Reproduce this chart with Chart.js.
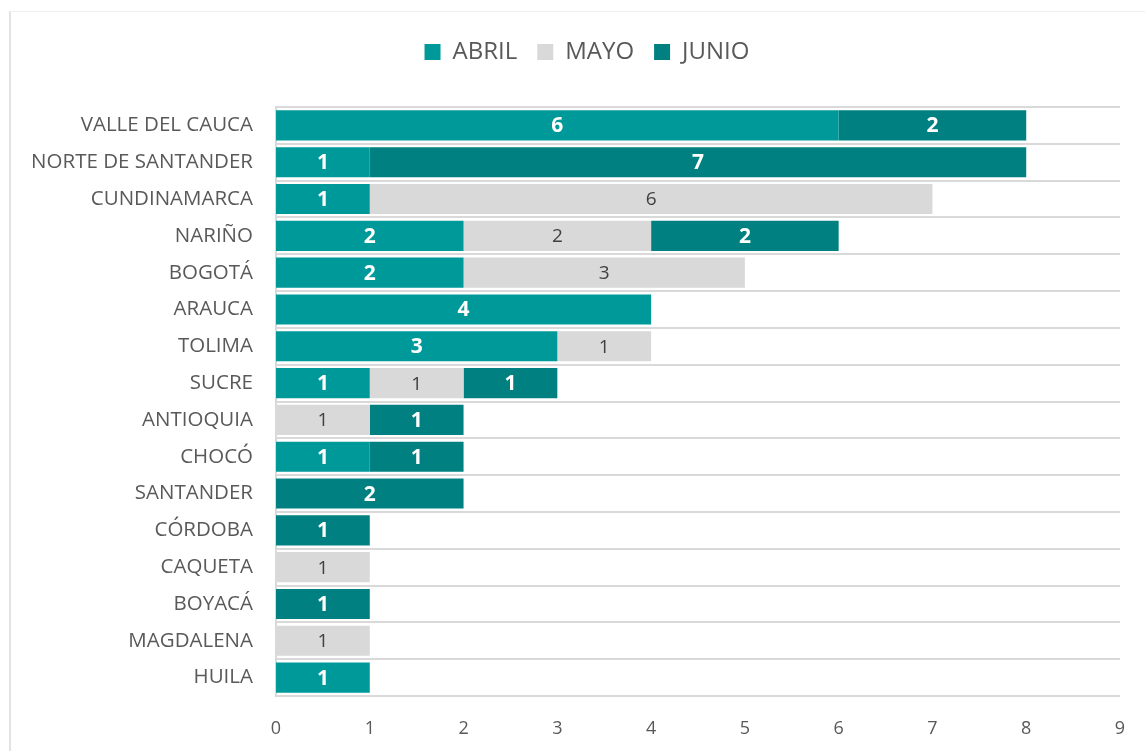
<!DOCTYPE html>
<html>
<head>
<meta charset="utf-8">
<script src="https://cdn.jsdelivr.net/npm/chart.js@4.4.1/dist/chart.umd.min.js"></script>
<style>
  html, body { margin: 0; padding: 0; background: #fff; }
  .frame { position: absolute; left: 9px; top: 11px; width: 1200px; height: 800px;
           border-left: 2px solid #e3e3e3; border-top: 1px solid #efefef; }
  .wrap { position: absolute; left: 0; top: 0; width: 1145px; height: 751px; }
</style>
</head>
<body>
<div class="frame"></div>
<div class="wrap"><canvas id="chart" width="1145" height="751"></canvas></div>
<script>
// datos por departamento
const departamentos = ['VALLE DEL CAUCA', 'NORTE DE SANTANDER', 'CUNDINAMARCA', 'NARIÑO', 'BOGOTÁ', 'ARAUCA', 'TOLIMA', 'SUCRE',
    'ANTIOQUIA', 'CHOCÓ', 'SANTANDER', 'CÓRDOBA', 'CAQUETA', 'BOYACÁ', 'MAGDALENA', 'HUILA'];
const abril = [6, 1, 1, 2, 2, 4, 3, 1, 0, 1, 0, 0, 0, 0, 0, 1];
const mayo  = [0, 0, 6, 2, 3, 0, 1, 1, 1, 0, 0, 0, 1, 0, 1, 0];
const junio = [2, 7, 0, 2, 0, 0, 0, 1, 1, 1, 2, 1, 0, 1, 0, 0];
const xTicks = [0, 1, 2, 3, 4, 5, 6, 7, 8, 9];

// etiquetas dentro de las barras
const barLabels = {
    id: 'barLabels',
    afterDatasetsDraw(chart) {
        const ctx = chart.ctx;
        ctx.save();
        ctx.textAlign = 'center';
        ctx.textBaseline = 'middle';
        chart.data.datasets.forEach((ds, i) => {
            const meta = chart.getDatasetMeta(i);
            meta.data.forEach((bar, j) => {
                const v = ds.data[j];
                if (!v) return;
                const x = (bar.x + bar.base) / 2;
                if (ds.label === 'MAYO') {
                    ctx.fillStyle = '#404040';
                    ctx.font = '19px "Open Sans", sans-serif';
                } else {
                    ctx.fillStyle = '#ffffff';
                    ctx.font = 'bold 21px "Open Sans", sans-serif';
                }
                ctx.fillText(String(v), x, bar.y + 1);
            });
        });
        ctx.restore();
    }
};

// espacio extra debajo de la leyenda y corrimiento a la derecha
const legendGap = {
    id: 'legendGap',
    beforeInit(chart) {
        const fit = chart.legend.fit;
        chart.legend.fit = function() {
            fit.bind(chart.legend)();
            this.height += 33;
        };
    },
    afterLayout(chart) {
        chart.legend.left += 27;
        chart.legend.right += 27;
    }
};

const ctx = document.getElementById('chart').getContext('2d');
new Chart(ctx, {
    type: 'bar',
    data: {
        labels: departamentos,
        datasets: [
            { label: 'ABRIL', data: abril, backgroundColor: '#009999' },
            { label: 'MAYO', data: mayo, backgroundColor: '#d9d9d9' },
            { label: 'JUNIO', data: junio, backgroundColor: '#008080' }
        ]
    },
    options: {
        indexAxis: 'y',
        responsive: false,
        animation: false,
        barPercentage: 0.82,
        categoryPercentage: 1,
        layout: { padding: { left: 0, right: 25, top: 20, bottom: 10 } },
        plugins: {
            legend: {
                position: 'top',
                labels: {
                    color: '#595959',
                    font: { size: 24, family: '"Open Sans", sans-serif' },
                    boxWidth: 16,
                    boxHeight: 16,
                    padding: 20
                }
            },
            tooltip: { enabled: false }
        },
        scales: {
            x: {
                stacked: true,
                min: 0,
                max: 9,
                afterBuildTicks: s => { s.ticks = xTicks.map(v => ({ value: v })); },
                afterFit: s => { s.height = 45; },
                grid: { display: false },
                border: { display: false },
                ticks: { color: '#595959', padding: 14, font: { size: 18, family: '"Open Sans", sans-serif' } }
            },
            y: {
                stacked: true,
                afterFit: s => { s.width = 276; },
                grid: { color: '#d9d9d9', lineWidth: 2, drawTicks: false, offset: true },
                border: { color: '#d9d9d9', width: 2 },
                ticks: { color: '#595959', padding: 23, font: { size: 20.5, family: '"Open Sans", sans-serif' } }
            }
        }
    },
    plugins: [legendGap, barLabels]
});
</script>
</body>
</html>
